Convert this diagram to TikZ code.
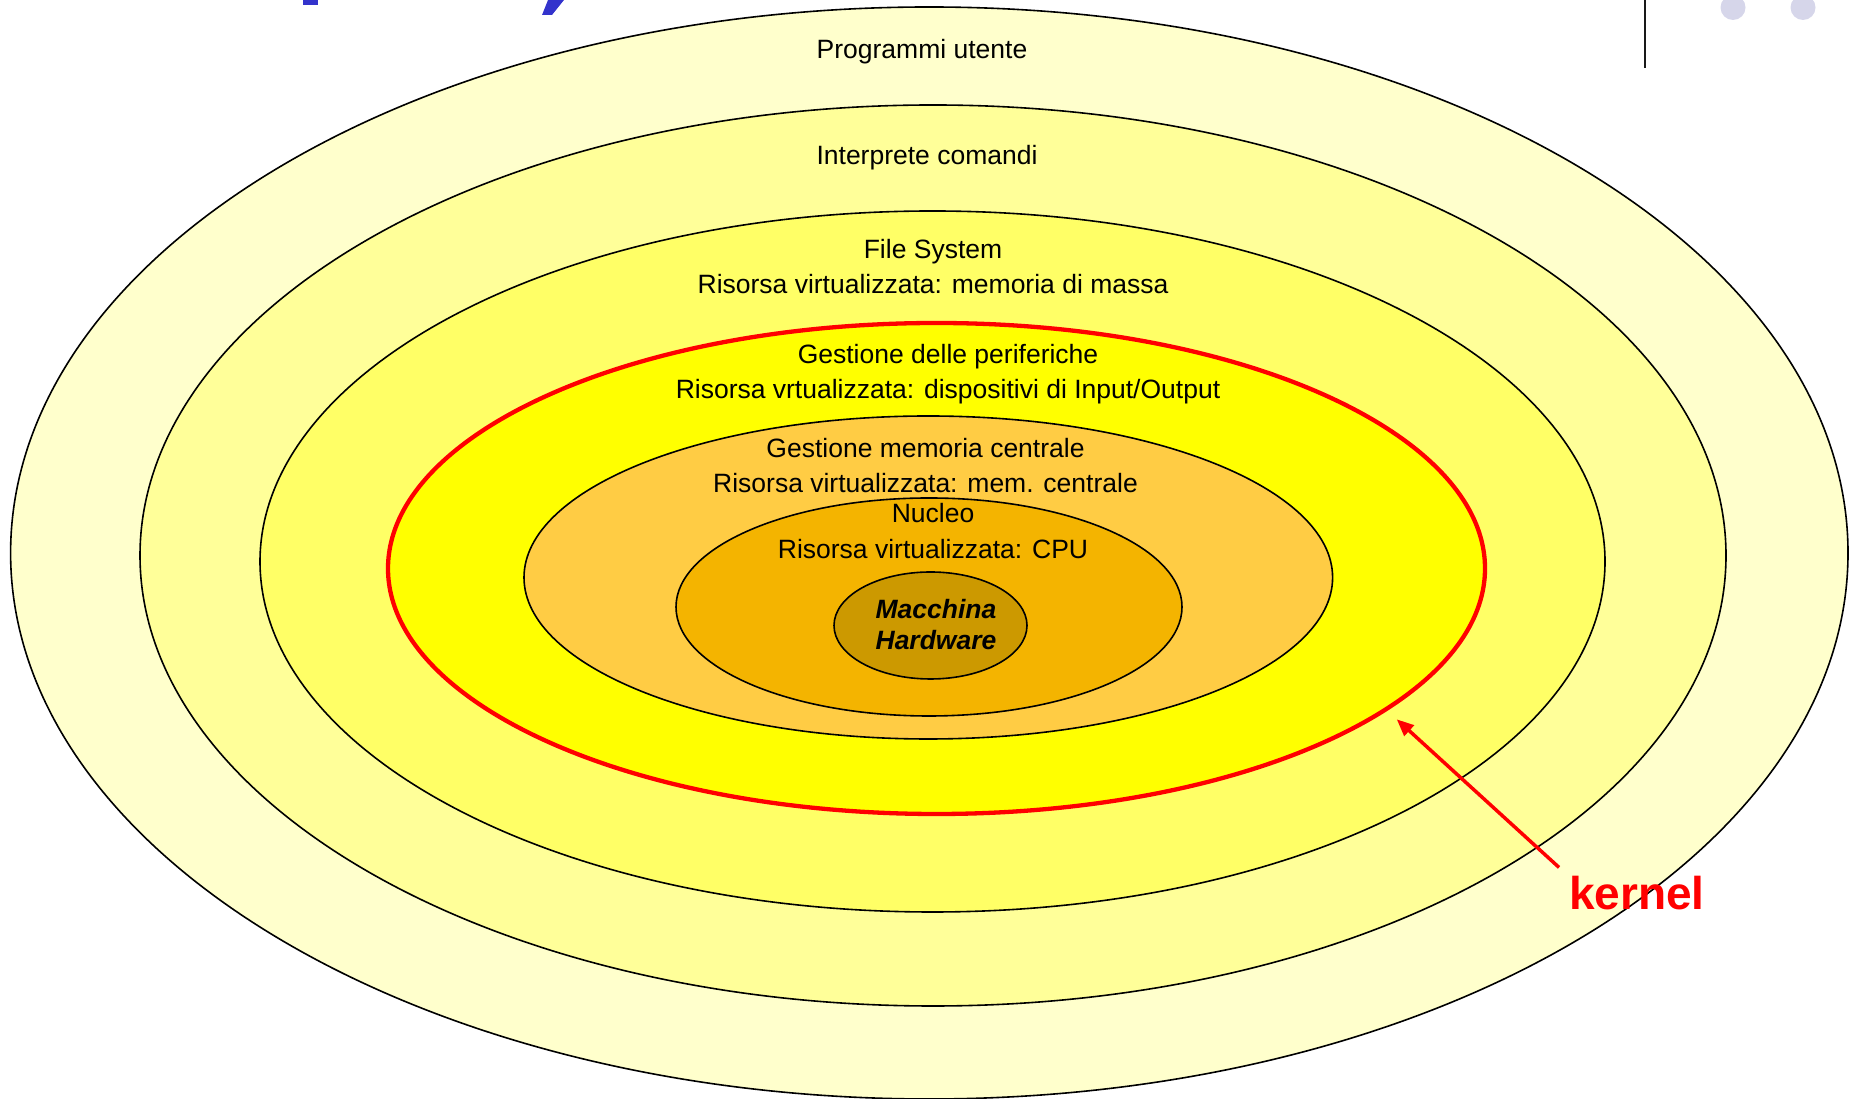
\documentclass[tikz,border=0pt]{standalone}
\usepackage{fontspec}
\setmainfont{Liberation Sans}
\usetikzlibrary{shapes.geometric,arrows.meta}
\definecolor{cA}{HTML}{FFFFCC}
\definecolor{cB}{HTML}{FFFF99}
\definecolor{cC}{HTML}{FFFF66}
\definecolor{cD}{HTML}{FFFF00}
\definecolor{cE}{HTML}{FFCC44}
\definecolor{cF}{HTML}{F4B400}
\definecolor{cG}{HTML}{CC9900}
\definecolor{titleblue}{HTML}{3333CC}
\definecolor{dotgray}{HTML}{D6D6EA}
\definecolor{kred}{HTML}{FF0000}
\tikzset{
  layer/.style={ellipse, draw=black, line width=1.6pt, inner sep=0pt},
  kernlayer/.style={ellipse, draw=kred, line width=4.3pt, inner sep=0pt},
  lbl/.style={align=center, inner sep=0pt, font=\fontsize{26.5}{35.5}\selectfont},
  hwlbl/.style={align=center, inner sep=0pt, font=\fontsize{26.5}{31}\selectfont\bfseries\itshape},
  kernlbl/.style={inner sep=2pt, text=kred, font=\fontsize{46}{50}\selectfont\bfseries},
  kernelarrow/.style={draw=kred, line width=3.5pt, -{Triangle[length=17pt,width=14pt]}}
}
\begin{document}
\begin{tikzpicture}[x=1pt,y=1pt]
\useasboundingbox (0,0) rectangle (1851,1099);
% cut-off title fragments and slide decorations
\fill[titleblue] (303,1094.3) rectangle (318,1099);
\fill[titleblue] (548,1099) -- (564,1099) -- (552,1084) -- (542,1084) -- cycle;
\draw[line width=2pt, black!90] (1645,1099) -- (1645,1031);
\fill[dotgray] (1733,1091.5) circle[radius=12.5];
\fill[dotgray] (1803,1091.5) circle[radius=12.5];
% layers
\node[layer, fill=cA, minimum width=1837.4pt, minimum height=1092pt] (L1) at (929.3,546) {};
\node[layer, fill=cB, minimum width=1586pt, minimum height=901pt] (L2) at (933,543.5) {};
\node[layer, fill=cC, minimum width=1345pt, minimum height=701pt] (L3) at (932.5,537.5) {};
\node[kernlayer, fill=cD, minimum width=1097pt, minimum height=491pt] (L4) at (936.5,530.5) {};
\node[layer, fill=cE, minimum width=808.6pt, minimum height=323pt] (L5) at (928.3,521.5) {};
\node[layer, fill=cF, minimum width=506pt, minimum height=218pt] (L6) at (929,492) {};
\node[layer, fill=cG, minimum width=193pt, minimum height=107pt] (L7) at (930.5,473.5) {};
% labels
\node[lbl] (t1) at (922,1047) {Programmi utente};
\node[lbl] (t2) at (927,941.5) {Interprete comandi};
\node[lbl] (t3) at (933,832.4) {File System\\Risorsa virtualizzata: memoria di massa};
\node[lbl] (t4) at (948,725) {Gestione delle periferiche\\Risorsa vrtualizzata: dispositivi di Input/Output};
\node[lbl] (t5) at (925.5,633.4) {Gestione memoria centrale\\Risorsa virtualizzata: mem. centrale};
\node[lbl] (t6) at (933,568) {Nucleo\\Risorsa virtualizzata: CPU};
\node[hwlbl] (t7) at (936,474) {Macchina\\Hardware};
% kernel
\node[kernlbl, anchor=base] (kernel) at (1637,189) {kernel};
\coordinate (ktip) at (1396.7,379.7);
\draw[kernelarrow] ([shift={(-8pt,7pt)}]kernel.north west) -- (ktip);
\end{tikzpicture}
\end{document}
